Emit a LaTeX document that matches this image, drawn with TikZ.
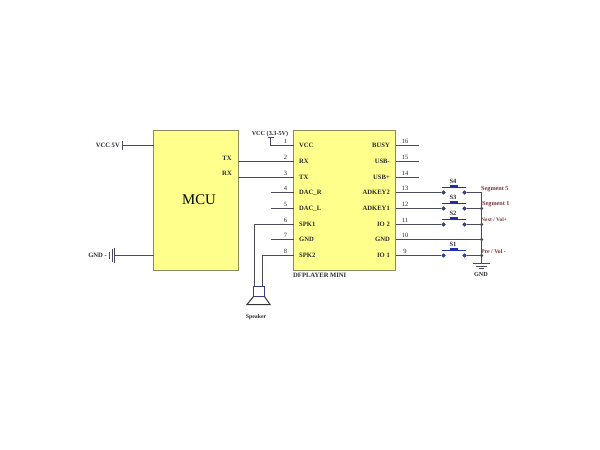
\documentclass[tikz,border=0pt]{standalone}
\usepackage{fontspec}
\setmainfont{Liberation Serif}
\definecolor{chip}{HTML}{FFFF8C}
\definecolor{chipedge}{HTML}{8A8A60}
\definecolor{wirec}{HTML}{4A4A5C}
\definecolor{swc}{HTML}{1F2FA8}
\definecolor{labc}{HTML}{7A3535}
\definecolor{txtc}{HTML}{2A2A2A}
\tikzset{
  chipbox/.style={draw=chipedge,fill=chip,line width=1pt,inner sep=0,anchor=north west},
  wire/.style={draw=wirec,line width=1.2pt},
  txt/.style={font=\fontsize{6.6}{7}\selectfont\bfseries,text=txtc,inner sep=0},
  pinnum/.style={font=\fontsize{6.5}{7}\selectfont,text=txtc,inner sep=0},
  netlab/.style={font=\fontsize{6.2}{7}\selectfont\bfseries,text=labc,inner sep=0,anchor=west},
  dotc/.style={circle,fill=wirec,inner sep=0,minimum size=3.5pt},
  contact/.style={circle,draw=swc,fill=wirec,line width=0.6pt,inner sep=0,minimum size=3.5pt},
  swbar/.style={draw=swc,line width=1.4pt},
  swknob/.style={fill=swc,draw=none},
}
\begin{document}
\begin{tikzpicture}[x=1pt,y=-1pt]
\useasboundingbox (0,0) rectangle (600,450);
% boxes
\node[chipbox,minimum width=85pt,minimum height=140pt,outer sep=0] (mcu) at (153.5,130.5) {};
\node[chipbox,minimum width=102pt,minimum height=140pt,outer sep=0] (dfp) at (293.5,130.5) {};
\node[font=\fontsize{14.8}{18}\selectfont,text=black,inner sep=0] (mcutxt) at (199,200) {MCU};
\node[txt,anchor=west] (dfptxt) at (293,275.5) {DFPLAYER MINI};
\node[txt] (tx) at (227,158) {TX};
\node[txt] (rx) at (227,173) {RX};
% left pins of player
\foreach \n/\y/\t in {1/145.5/VCC,2/161.5/RX,3/177.5/TX,4/192.5/DAC\_R,5/208.5/DAC\_L,6/224.5/SPK1,7/239.5/GND,8/255.5/SPK2}{
  \coordinate (lp\n) at (293.5,\y);
  \coordinate (lq\n) at (270.5,\y);
  \node[txt,anchor=west] (ll\n) at (299,\y) {\t};
  \node[pinnum] (ln\n) at (285.5,\y-4.5) {\n};
}
% right pins of player
\foreach \n/\y/\t in {16/145.5/BUSY,15/161.5/USB-,14/177.5/USB+,13/192.5/ADKEY2,12/208.5/ADKEY1,11/224.5/IO 2,10/239.5/GND,9/255.5/IO 1}{
  \coordinate (rp\n) at (395.5,\y);
  \coordinate (rq\n) at (419,\y);
  \node[txt,anchor=east] (rl\n) at (390,\y) {\t};
  \node[pinnum] (rn\n) at (405,\y-4.5) {\n};
}
\foreach \n in {4,5,7}{\draw[wire] (lq\n) -- (lp\n);}
\foreach \n in {16,15,14}{\draw[wire] (rp\n) -- (rq\n);}
% MCU links
\draw[wire] (mcu.east |- lp2) -- (lp2);
\draw[wire] (mcu.east |- lp3) -- (lp3);
% VCC 3.3-5V
\node[txt,font=\fontsize{6.2}{7}\selectfont\bfseries] (vcc3) at (270,134) {VCC (3.3-5V)};
\coordinate (vcc3top) at (270.5,137.5);
\draw[wire] (vcc3top) -- (lq1) -- (lp1);
\draw[wire] (267.5,137.5) -- (273.5,137.5);
% VCC 5V
\node[txt,anchor=east] (vcc5) at (120,145.5) {VCC 5V};
\coordinate (vcc5bar) at (122.5,145.5);
\draw[wire] (vcc5bar) -- (mcu.west |- vcc5bar);
\draw[wire,line width=1.3pt] (122.5,141) -- (122.5,150);
% GND left
\node[txt,anchor=east] (gndl) at (107,255) {GND -};
\coordinate (gndbar) at (114.5,255.5);
\draw[wire] (gndbar) -- (mcu.west |- gndbar);
\draw[wire,line width=1.2pt] (114.5,248) -- (114.5,263);
\draw[wire,line width=1.1pt] (112.5,249) -- (112.5,262);
\draw[wire,line width=1pt] (109.5,251.5) -- (109.5,258.5);
% Speaker
\coordinate (spka) at (254.5,286);
\coordinate (spkb) at (262.5,286);
\draw[wire] (lp6) -- (lp6 -| spka) -- (spka);
\draw[wire] (lp8) -- (lp8 -| spkb) -- (spkb);
\draw[draw=wirec!60!swc,line width=1pt] (253.5,286.5) rectangle (264.5,296.5);
\draw[draw=black!80,line width=1pt] (253.5,296.5) -- (247,304.5) -- (270,304.5) -- (264.5,296.5);
\node[txt,font=\fontsize{5.8}{7}\selectfont\bfseries] (spktxt) at (256,317) {Speaker};
% rail
\coordinate (railtop) at (481.5,192.5);
\coordinate (railbot) at (481.5,263.5);
\draw[wire] (railtop) -- (railbot);
\foreach \n/\y in {a/208.5,b/224.5,c/239.5,d/255.5}{\node[dotc] (j\n) at (481.5,\y) {};}
% switches
\foreach \s/\n/\y in {S4/13/192.5,S3/12/208.5,S2/11/224.5,S1/9/255.5}{
  \node[contact] (\s l) at (443.5,\y) {};
  \node[contact] (\s r) at (464.5,\y) {};
  \draw[wire] (rp\n) -- (\s l);
  \draw[wire] (\s r) -- (\s r -| railtop);
  \draw[swbar] (442,\y-5) -- (466,\y-5);
  \fill[swknob] (450,\y-5) rectangle (458,\y-7.5);
  \node[pinnum,font=\fontsize{6.5}{7}\selectfont\bfseries] (\s t) at (453,\y-11) {\s};
}
\draw[wire] (rp10) -- (jc);
% ground
\draw[draw=wirec,line width=1.1pt] (473,263.5) -- (490,263.5);
\draw[draw=wirec,line width=1pt] (476,266.5) -- (487,266.5);
\draw[draw=wirec,line width=0.9pt] (479,268.9) -- (484,268.9);
\node[txt,font=\fontsize{6.2}{7}\selectfont\bfseries] (gndr) at (481,274.5) {GND};
% net labels
\node[netlab] (n5) at (481,189) {Segment 5};
\node[netlab] (n1) at (482,204.5) {Segment 1};
\node[netlab,font=\fontsize{5.4}{7}\selectfont\bfseries] (n2) at (481,219.5) {Next / Vol+};
\node[netlab,font=\fontsize{5.8}{7}\selectfont\bfseries] (n3) at (481,251.5) {Pre / Vol -};
\end{tikzpicture}
\end{document}
